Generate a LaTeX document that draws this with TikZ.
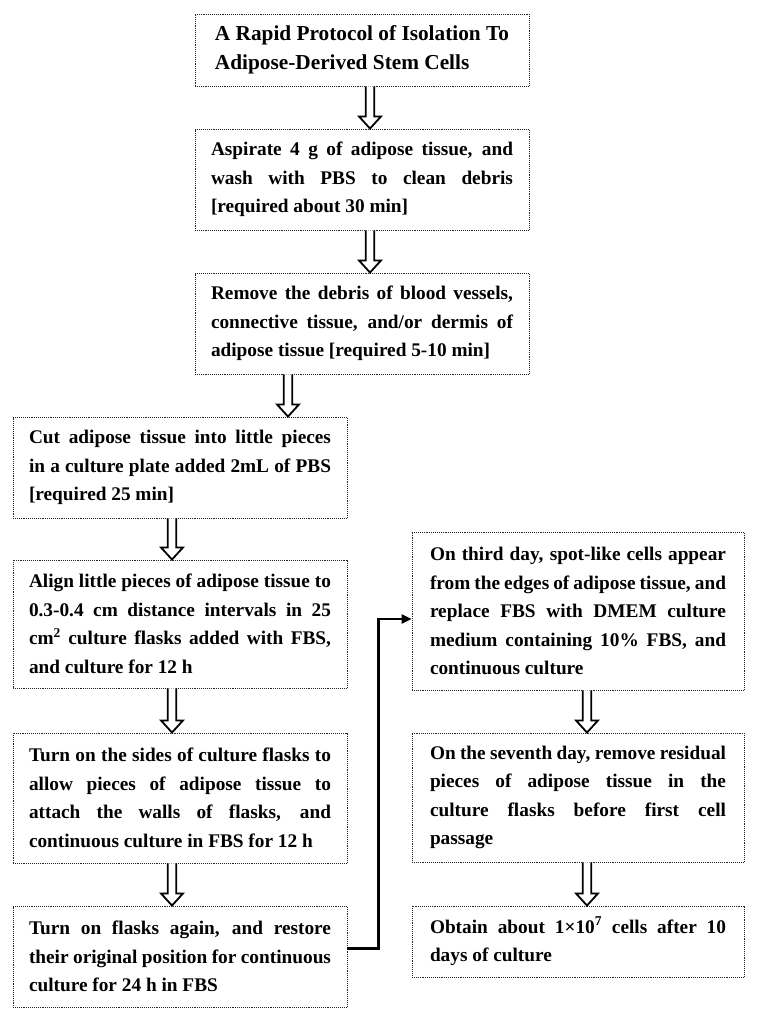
\documentclass[tikz,border=0pt]{standalone}
\usepackage{fontspec}
\setmainfont{Liberation Serif}
\usetikzlibrary{
    arrows.meta,
    positioning,
    calc
}
\hyphenpenalty=10000
\exhyphenpenalty=10000
\tolerance=10000
\tikzset{
  frame/.style  = {draw=black!85, line width=0.9pt, dash pattern=on 1pt off 0.9pt,
                   fill=white, minimum width=334pt},
  stage/.style  = {frame, text width=302pt, inner xsep=16pt,
                   align=justify, font=\fontsize{19.3}{28.5}\selectfont\bfseries},
  stageR/.style = {stage, minimum width=332pt, text width=296pt, inner xsep=18pt},
  title/.style  = {frame, align=left, font=\fontsize{21.3}{28.5}\selectfont\bfseries},
  hollow/.style = {draw, line width=1.8pt, fill=white, line join=miter},
  link/.style   = {line width=2.4pt, -{Triangle[length=10pt,width=9pt]}}
}
% hollow down arrow at x=#1 from node #2 to node #3
\newcommand{\downarr}[3]{%
  \draw[hollow] ($(#1,0 |- #2.south)+(-4.3,0)$) -- ($(#1,0 |- #3.north)+(-4.3,-12)$)
    -- ++(-6.6,0) -- (#1,0 |- #3.north) -- ++(10.9,-12) -- ++(-6.6,0)
    -- ($(#1,0 |- #2.south)+(4.3,0)$);}

\begin{document}
\begin{tikzpicture}[x=1pt, y=-1pt]
\useasboundingbox (0,0) rectangle (760,1021);

% Top column
\node[title, minimum height=72pt] (s1) at (362,50)
  {A Rapid Protocol of Isolation To\\Adipose-Derived Stem Cells};
\node[stage, minimum height=101pt] (s2) at (362,179.5)
  {Aspirate 4 g of adipose tissue, and\linebreak{} wash with PBS to clean debris\linebreak{} [required about 30 min]};
\node[stage, minimum height=101pt] (s3) at (362,323.5)
  {Remove the debris of blood vessels,\linebreak{} connective tissue, and/or dermis of\linebreak{} adipose tissue [required 5-10 min]};

% Left column
\node[stage, minimum height=101pt] (s4) at (180,467.5)
  {Cut adipose tissue into little pieces\linebreak{} in a culture plate added 2mL of PBS\linebreak{} [required 25 min]};
\node[stage, minimum height=128pt] (s5) at (180,624)
  {Align little pieces of adipose tissue to\linebreak{} 0.3-0.4 cm distance intervals in 25\linebreak{} cm\textsuperscript{2} culture flasks added with FBS,\linebreak{} and culture for 12 h};
\node[stage, minimum height=130pt] (s6) at (180,798)
  {Turn on the sides of culture flasks to\linebreak{} allow pieces of adipose tissue to\linebreak{} attach the walls of flasks, and\linebreak{} \mbox{continuous culture in FBS for 12 h}};
\node[stage, minimum height=101pt] (s7) at (180,956.5)
  {Turn on flasks again, and restore\linebreak{} their original position for continuous\linebreak{} culture for 24 h in FBS};

% Right column
\node[stageR, minimum height=158pt] (s8) at (578,611)
  {On third day, spot-like cells appear\linebreak{} from the edges of adipose tissue, and\linebreak{} replace FBS with DMEM culture\linebreak{} medium containing 10\% FBS, and\linebreak{} continuous culture};
\node[stageR, minimum height=129pt] (s9) at (578,797.5)
  {On the seventh day, remove residual\linebreak{} pieces of adipose tissue in the\linebreak{} culture flasks before first cell\linebreak{} passage};
\node[stageR, minimum height=71pt] (s10) at (578,941.5)
  {Obtain about 1×10\textsuperscript{7} cells after 10\linebreak{} days of culture};

% Arrows
\downarr{370}{s1}{s2}
\downarr{370}{s2}{s3}
\downarr{288}{s3}{s4}
\downarr{172}{s4}{s5}
\downarr{172}{s5}{s6}
\downarr{172}{s6}{s7}
\downarr{587}{s8}{s9}
\downarr{587}{s9}{s10}
\draw[link] ([yshift=8pt]s7.east) -- ++(31,0) |- ([yshift=-8pt]s8.west);
\end{tikzpicture}
\end{document}
